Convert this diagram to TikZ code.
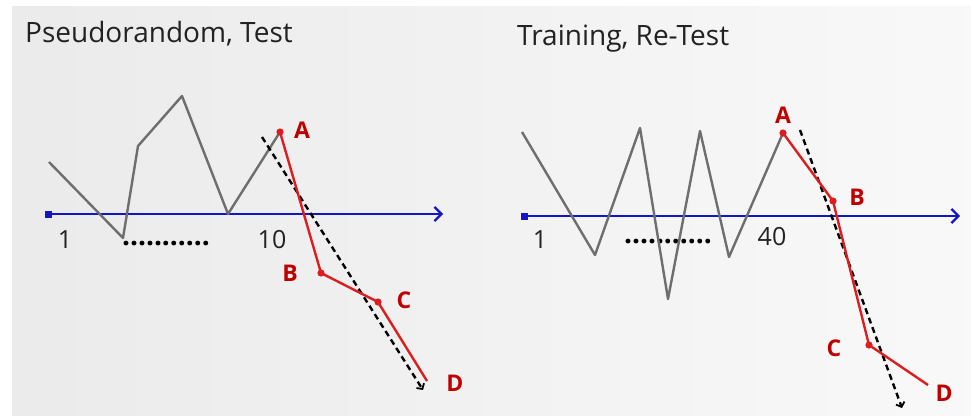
\documentclass[tikz,border=0pt]{standalone}
\usepackage{fontspec}
\setmainfont{Open Sans}
\usetikzlibrary{arrows.meta, positioning, calc}
\definecolor{linegray}{HTML}{6E6E6E}
\definecolor{axisblue}{HTML}{1414C8}
\definecolor{pathred}{HTML}{DE1E1E}
\definecolor{labelred}{HTML}{C00000}
\definecolor{titlegray}{HTML}{222222}

\tikzset{
  signal/.style={draw=linegray, line width=2.4pt, line join=round},
  axis/.style={draw=axisblue, line width=2.4pt, -{Straight Barb[length=7pt, width=14pt, line width=2.2pt]}},
  trend/.style={draw=black, line width=2.4pt, dash pattern=on 6pt off 4pt, -{Straight Barb[length=4pt, width=9pt, line width=1.8pt]}},
  drift/.style={draw=pathred, line width=2.4pt, line join=round},
  vertex/.style={fill=pathred},
  letter/.style={text=labelred, font=\fontsize{23}{23}\selectfont\bfseries, inner sep=0pt},
  ticklabel/.style={text=titlegray, font=\fontsize{25}{25}\selectfont, inner sep=0pt},
  dots/.style={font=\fontsize{28}{28}\selectfont\bfseries, inner sep=0pt},
  heading/.style={text=titlegray, font=\fontsize{28}{28}\selectfont, inner sep=0pt, anchor=base west}
}

\begin{document}
\begin{tikzpicture}[x=1pt, y=-1pt]
    \useasboundingbox (0,0) rectangle (971,415);

    % Background
    \shade[left color=gray!16, right color=gray!5] (12,6) rectangle (971,415);

    % ---------- Pseudorandom, Test ----------
    \node[heading] (titleL) at (25,42) {Pseudorandom, Test};

    % Axis
    \coordinate (axL0) at (48,214);
    \coordinate (axL1) at (443,214);
    \draw[axis] (axL0) -- (axL1);
    \fill[axisblue] ($(axL0)+(-3.5,-3.5)$) rectangle ($(axL0)+(3.5,3.5)$);
    \node[ticklabel] (oneL) at (65,240) {1};
    \node[dots] (dotsL) at (166,244) {...........};
    \node[ticklabel] (tenL) at (272,240) {10};

    % Trials
    \coordinate (l1) at (49,162);
    \coordinate (l2) at (123,238);
    \coordinate (l3) at (138,146);
    \coordinate (l4) at (182,96);
    \coordinate (l5) at (228,214);
    \coordinate (AL) at (280,132);
    \draw[signal] (l1) -- (l2) -- (l3) -- (l4) -- (l5) -- (AL);

    % Trend
    \coordinate (tL0) at (262,137);
    \coordinate (tL1) at (423,390);
    \draw[trend] (tL0) -- (tL1);

    % Path A-D
    \coordinate (BL) at (321,273);
    \coordinate (CL) at (378,302);
    \coordinate (DL) at (427,381);
    \draw[drift] (AL) -- (BL) -- (CL) -- (DL);
    \foreach \p in {AL, BL, CL} \fill[vertex] (\p) circle (3.6);
    \node[letter] (labAL) at (302,130) {A};
    \node[letter] (labBL) at (290,273) {B};
    \node[letter] (labCL) at (404,300) {C};
    \node[letter] (labDL) at (455,383) {D};

    % ---------- Training, Re-Test ----------
    \node[heading] (titleR) at (517,45) {Training, Re-Test};

    % Axis
    \coordinate (axR0) at (524,216);
    \coordinate (axR1) at (960,216);
    \draw[axis] (axR0) -- (axR1);
    \fill[axisblue] ($(axR0)+(-3.5,-3.5)$) rectangle ($(axR0)+(3.5,3.5)$);
    \node[ticklabel] (oneR) at (540,240) {1};
    \node[dots] (dotsR) at (668,242) {...........};
    \node[ticklabel] (fortyR) at (772,237) {40};

    % Trials
    \coordinate (r1) at (522,132);
    \coordinate (r2) at (595,255);
    \coordinate (r3) at (640,128);
    \coordinate (r4) at (668,299);
    \coordinate (r5) at (700,131);
    \coordinate (r6) at (729,257);
    \coordinate (AR) at (783,133);
    \draw[signal] (r1) -- (r2) -- (r3) -- (r4) -- (r5) -- (r6) -- (AR);

    % Trend
    \coordinate (tR0) at (800,130);
    \coordinate (tR1) at (902,408);
    \draw[trend] (tR0) -- (tR1);

    % Path A-D
    \coordinate (BR) at (833,201);
    \coordinate (CR) at (869,345);
    \coordinate (DR) at (928,385);
    \draw[drift] (AR) -- (BR) -- (CR) -- (DR);
    \foreach \p in {AR, BR, CR} \fill[vertex] (\p) circle (3.6);
    \node[letter] (labAR) at (783,115) {A};
    \node[letter] (labBR) at (857,197) {B};
    \node[letter] (labCR) at (834,348) {C};
    \node[letter] (labDR) at (944,393) {D};
\end{tikzpicture}
\end{document}
